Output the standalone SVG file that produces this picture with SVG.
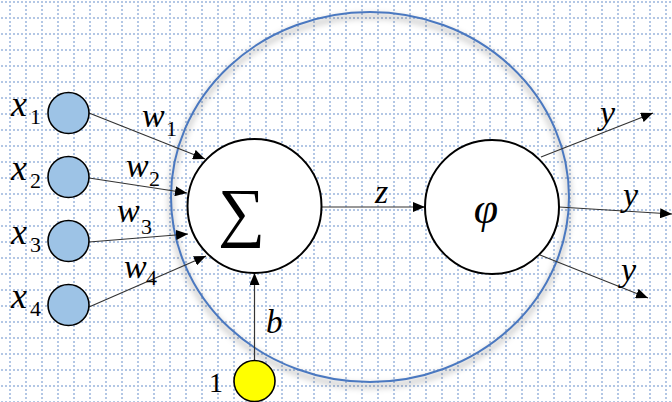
<svg xmlns="http://www.w3.org/2000/svg" width="672" height="402" viewBox="0 0 672 402">
<defs>
<pattern id="grid" patternUnits="userSpaceOnUse" x="9" y="1" width="16" height="16">
<g fill="#b3c7e5">
<rect x="0" y="0" width="2" height="2"/><rect x="4" y="0" width="2" height="2"/><rect x="8" y="0" width="2" height="2"/><rect x="12" y="0" width="2" height="2"/>
<rect x="0" y="4" width="2" height="2"/><rect x="0" y="8" width="2" height="2"/><rect x="0" y="12" width="2" height="2"/>
</g>
</pattern>
<filter id="blur" x="-20%" y="-20%" width="140%" height="140%"><feGaussianBlur stdDeviation="3"/></filter>
<marker id="ah" markerUnits="userSpaceOnUse" markerWidth="12" markerHeight="10" refX="12" refY="5" orient="auto"><path d="M0,0 L12,5 L0,10 z" fill="#000"/></marker>
</defs>
<style>
.edge{stroke:#333;stroke-width:1.2;fill:none;marker-end:url(#ah)}
.inp{fill:#9dc3e6;stroke:#000;stroke-width:1.6}
.unit{fill:#fff;stroke:#000;stroke-width:2}
.v{font-family:"Liberation Serif",serif;font-style:italic;fill:#000}
.n{font-family:"Liberation Serif",serif;fill:#000}
</style>
<rect width="672" height="402" fill="#fff"/>
<rect width="672" height="402" fill="url(#grid)"/>

<g id="neuron">
<ellipse cx="370" cy="201" rx="199" ry="185" fill="none" stroke="#000" stroke-opacity="0.25" stroke-width="4" filter="url(#blur)"/>
<ellipse cx="370" cy="197" rx="199" ry="185" fill="none" stroke="#4a78c0" stroke-width="2"/>
</g>

<g id="connectors">
<line class="edge" x1="89" y1="113" x2="205" y2="159"/>
<line class="edge" x1="89" y1="178" x2="187" y2="193"/>
<line class="edge" x1="89" y1="242" x2="188" y2="234"/>
<line class="edge" x1="89" y1="307" x2="206" y2="256"/>
<line class="edge" x1="254.5" y1="360" x2="254.5" y2="273"/>
<line class="edge" x1="322" y1="207" x2="425" y2="207"/>
<line class="edge" x1="541" y1="157" x2="653" y2="113"/>
<line class="edge" x1="559" y1="207" x2="672" y2="214"/>
<line class="edge" x1="540" y1="255" x2="648" y2="298"/>
<text class="v" x="142" y="127" font-size="34">w</text><text class="n" x="166" y="136" font-size="22">1</text>
<text class="v" x="126" y="177" font-size="34">w</text><text class="n" x="149" y="186" font-size="22">2</text>
<text class="v" x="117" y="222" font-size="34">w</text><text class="n" x="141" y="234" font-size="22">3</text>
<text class="v" x="124" y="278" font-size="34">w</text><text class="n" x="146" y="285" font-size="22">4</text>
<text class="v" x="375" y="203" font-size="34">z</text>
<text class="v" x="266" y="333" font-size="33">b</text>
<text class="v" x="600" y="124" font-size="34">y</text>
<text class="v" x="623" y="206" font-size="34">y</text>
<text class="v" x="621" y="281" font-size="34">y</text>
</g>

<g id="node-x1"><circle class="inp" cx="68.5" cy="113" r="20.5"/><text class="v" x="11" y="116" font-size="36">x</text><text class="n" x="30" y="124" font-size="22">1</text></g>
<g id="node-x2"><circle class="inp" cx="68.5" cy="177" r="20.5"/><text class="v" x="11" y="180" font-size="36">x</text><text class="n" x="30" y="188" font-size="22">2</text></g>
<g id="node-x3"><circle class="inp" cx="68.5" cy="241" r="20.5"/><text class="v" x="11" y="244" font-size="36">x</text><text class="n" x="30" y="252" font-size="22">3</text></g>
<g id="node-x4"><circle class="inp" cx="68.5" cy="305" r="20.5"/><text class="v" x="11" y="308" font-size="36">x</text><text class="n" x="30" y="316" font-size="22">4</text></g>

<g id="node-sum"><circle class="unit" cx="254.5" cy="206" r="67"/><text class="n" x="241.5" y="234" font-size="66" text-anchor="middle">∑</text></g>
<g id="node-phi"><circle class="unit" cx="492" cy="207" r="67"/><text class="v" x="486" y="223" font-size="44" text-anchor="middle">φ</text></g>
<g id="node-bias"><circle cx="254.5" cy="381" r="20.5" fill="#ffff00" stroke="#000" stroke-width="1.6"/><text class="n" x="209" y="392" font-size="28">1</text></g>
</svg>
